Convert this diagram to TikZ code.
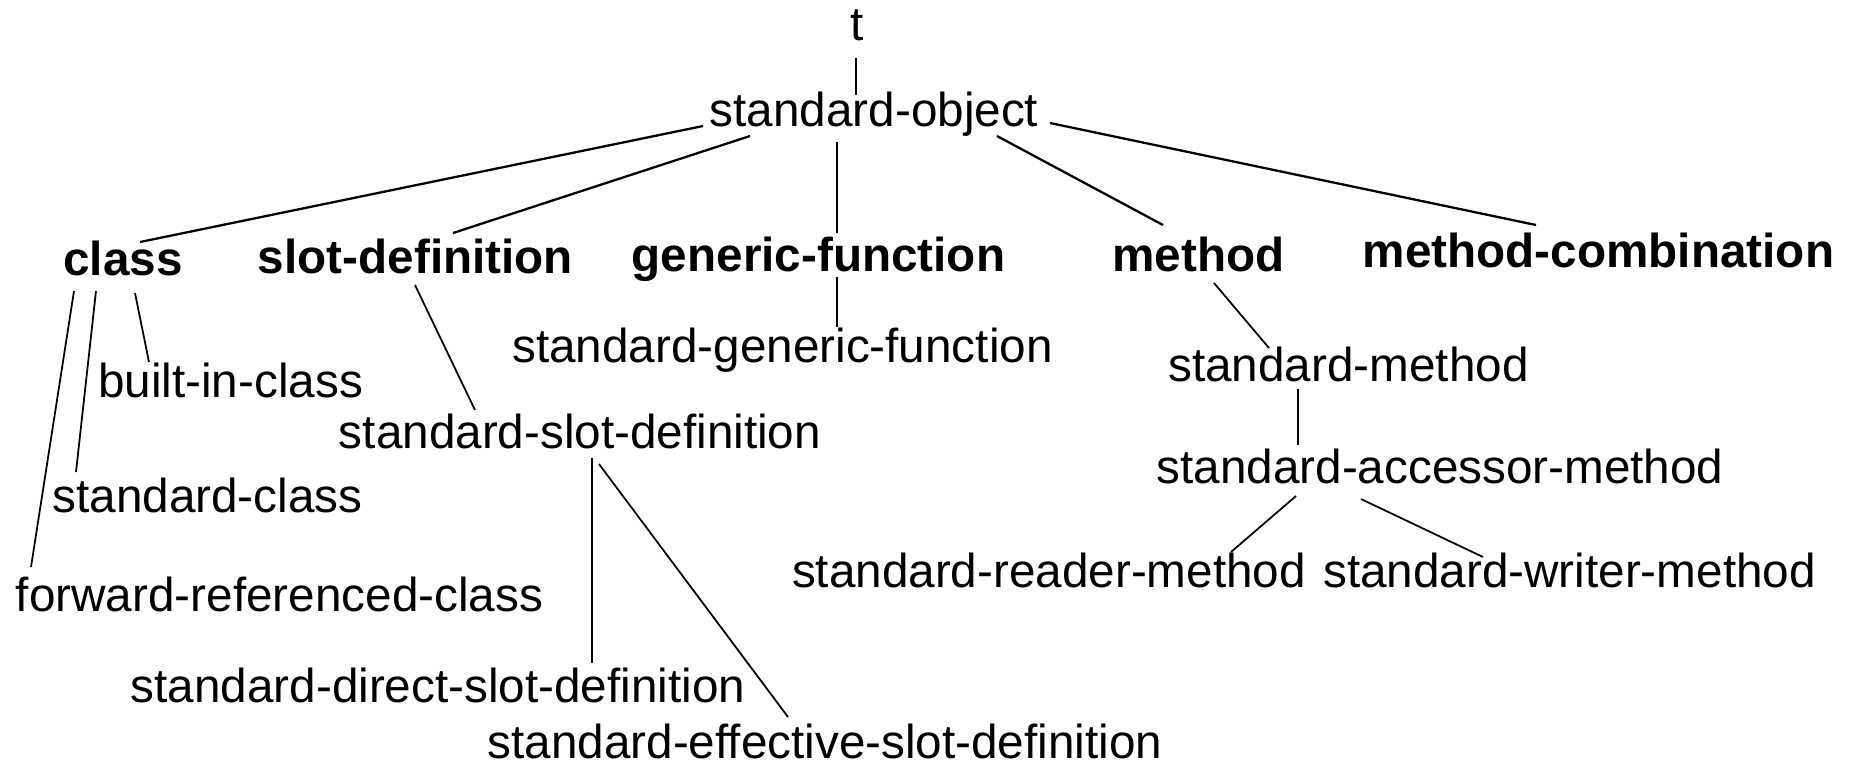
\documentclass[tikz,border=0pt]{standalone}
\usepackage{fontspec}
\setmainfont{Liberation Sans}
\usetikzlibrary{positioning}
\tikzset{
  cls/.style={anchor=base,inner sep=0pt,font=\fontsize{13.56pt}{16pt}\selectfont},
  meta cls/.style={cls,font=\fontsize{13.56pt}{16pt}\selectfont\bfseries},
  link/.style={draw=black,line width=0.5pt},
  top link/.style={draw=black,line width=0.65pt}
}

\begin{document}
\begin{tikzpicture}[x=0.1mm,y=-0.1mm]
    \useasboundingbox (0,0) rectangle (1853,763);
    % root and its one child
    \node[cls] (t) at (857,40) {t};
    \node[cls] (so) at (874,126) {standard-object};
    % metaobject classes
    \node[meta cls] (class) at (123,275) {class};
    \node[meta cls] (slotdef) at (415.5,273) {slot-definition};
    \node[meta cls] (gf) at (818.5,271) {generic-function};
    \node[meta cls] (meth) at (1198.5,271) {method};
    \node[meta cls] (mc) at (1598.5,267) {method-combination};
    % subclasses
    \node[cls] (sgf) at (782.5,362) {standard-generic-function};
    \node[cls] (builtin) at (230.5,397) {built-in-class};
    \node[cls] (ssd) at (580,448) {standard-slot-definition};
    \node[cls] (stdclass) at (207.5,512) {standard-class};
    \node[cls] (fwd) at (279.5,611) {forward-referenced-class};
    \node[cls] (dsd) at (438,702) {standard-direct-slot-definition};
    \node[cls] (esd) at (825,758) {standard-effective-slot-definition};
    \node[cls] (sm) at (1348.5,381) {standard-method};
    \node[cls] (sam) at (1440,483) {standard-accessor-method};
    \node[cls] (srm) at (1049,587) {standard-reader-method};
    \node[cls] (swm) at (1569.5,587) {standard-writer-method};

    \draw[link] ([shift={(-1,18)}]t.base) -- ([shift={(-18,-31)}]so.base);
    \draw[top link] ([shift={(-171,0)}]so.base) -- ([shift={(17,-33)}]class.base);
    \draw[top link] ([shift={(-124,10)}]so.base) -- ([shift={(37.5,-40)}]slotdef.base);
    \draw[link] ([shift={(-37,16)}]so.base) -- ([shift={(18.5,-38)}]gf.base);
    \draw[top link] ([shift={(123,10)}]so.base) -- ([shift={(-35.5,-46)}]meth.base);
    \draw[top link] ([shift={(176,-3)}]so.base) -- ([shift={(-62.5,-42)}]mc.base);

    \draw[link] ([shift={(18.5,6)}]gf.base) -- ([shift={(54.5,-35)}]sgf.base);
    \draw[link] ([shift={(-49,16)}]class.base) -- ([shift={(-248.5,-44)}]fwd.base);
    \draw[link] ([shift={(-27,16)}]class.base) -- ([shift={(-131.5,-40)}]stdclass.base);
    \draw[link] ([shift={(12,18)}]class.base) -- ([shift={(-81.5,-35)}]builtin.base);
    \draw[link] ([shift={(-0.5,12)}]slotdef.base) -- ([shift={(-105,-38)}]ssd.base);
    \draw[link] ([shift={(12,10)}]ssd.base) -- ([shift={(154,-39)}]dsd.base);
    \draw[link] ([shift={(19,16)}]ssd.base) -- ([shift={(-37,-41)}]esd.base);
    \draw[link] ([shift={(15.5,12)}]meth.base) -- ([shift={(-79.5,-33)}]sm.base);
    \draw[link] ([shift={(-50.5,8)}]sm.base) -- ([shift={(-142,-38)}]sam.base);
    \draw[link] ([shift={(-144,13)}]sam.base) -- ([shift={(182,-35)}]srm.base);
    \draw[link] ([shift={(-79,16)}]sam.base) -- ([shift={(-86.5,-30)}]swm.base);
\end{tikzpicture}
\end{document}
